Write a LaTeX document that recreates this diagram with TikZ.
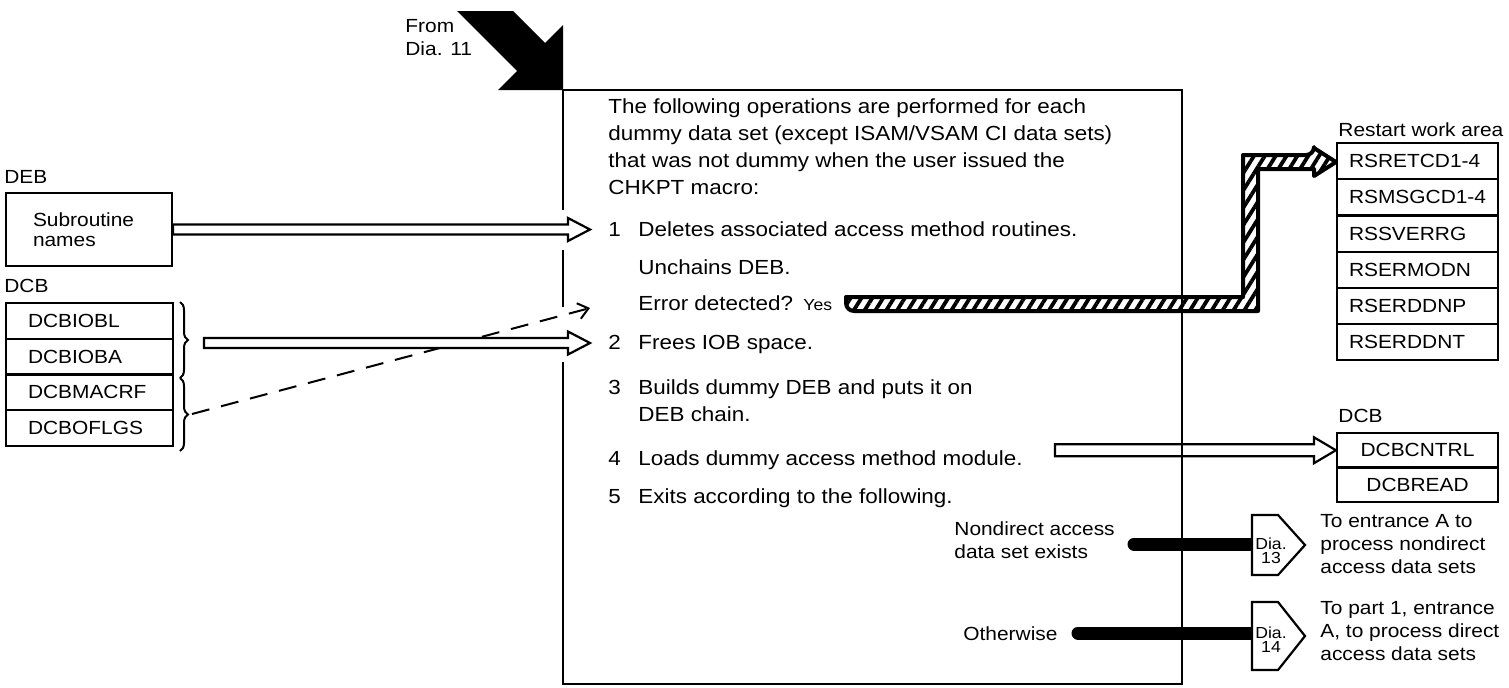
\documentclass[tikz,border=0pt]{standalone}
\usepackage{fontspec}
\setmainfont{Liberation Sans}[FakeStretch=1.1]
\usetikzlibrary{calc,decorations.pathreplacing,patterns.meta,arrows.meta}

\newcommand\txtmain{\fontsize{10.2pt}{13pt}\selectfont}
\newcommand\txtsmall{\fontsize{9.5pt}{11.5pt}\selectfont}
\newcommand\txttiny{\fontsize{8pt}{7pt}\selectfont}

% horizontal hollow (outlined) arrow: start, tip, shaft half-height, head half-height, head length
\newcommand\hollowarr[5]{%
  \draw[hollow] let \p1=(#1), \p2=(#2) in
    (\x1,\y1+#3) -- (\x2-#5,\y1+#3) -- (\x2-#5,\y1+#4) -- (\x2,\y1)
    -- (\x2-#5,\y1-#4) -- (\x2-#5,\y1-#3) -- (\x1,\y1-#3) -- cycle;}

\begin{document}
\begin{tikzpicture}[x=0.5pt,y=-0.5pt,
  frame/.style={line width=1.4pt},
  txt/.style={font=\txtmain, inner sep=0pt, anchor=base west},
  lbl/.style={font=\txtsmall, inner sep=0pt, anchor=base west},
  cellbox/.style={draw, line width=1.1pt, inner ysep=0pt, align=left, font=\txtsmall},
  cellL/.style={cellbox, minimum height=17.9pt, text width=61.5pt, inner xsep=11pt},
  cellR/.style={cellbox, minimum height=18.1pt, text width=68.5pt, inner xsep=6pt},
  cellD/.style={cellbox, minimum height=17.25pt, text width=80.5pt, inner xsep=0pt, align=center},
  hollow/.style={draw, fill=white, line width=1.1pt},
  bar/.style={line width=6.5pt, line cap=round},
  exitbox/.style={draw, fill=white, line width=1.1pt},
  dashlink/.style={line width=1pt, dash pattern=on 9pt off 6pt, -{Straight Barb[length=5pt,width=8pt]}},
  bracestyle/.style={line width=1pt, decorate, decoration={brace, amplitude=4pt}},
]
\useasboundingbox (0,0) rectangle (1509,687);

% ---------- incoming connector ----------
\fill (457,11) -- (513,11) -- (545,43) -- (563,25) -- (563,90) -- (498,90) -- (517,71) -- cycle;
\node[lbl] (from1) at (405,32) {From};
\node[lbl] (from2) at (405,55) {Dia. 11};

% ---------- left: DEB and DCB ----------
\node[lbl] (deblbl) at (4,183) {DEB};
\node[draw, line width=1.1pt, minimum height=36.5pt, text width=56pt, inner xsep=13.5pt,
      align=left, font=\fontsize{9.5pt}{10pt}\selectfont] (deb) at (89,229.5) {Subroutine\\names};

\node[lbl] (dcblbl) at (4,292) {DCB};
\node[cellL] (iobl) at (89.5,320.9) {DCBIOBL};
\node[cellL] (ioba) at (89.5,356.6) {DCBIOBA};
\node[cellL] (macrf) at (89.5,392.4) {DCBMACRF};
\node[cellL] (oflgs) at (89.5,428.1) {DCBOFLGS};

\draw[bracestyle] (180,302) -- (180,378);
\draw[bracestyle] (180,378) -- (180,451);
\coordinate (brA) at (204,343);
\coordinate (brB) at (192,414);

% ---------- right: restart work area ----------
\node[lbl] (rwa) at (1338,136) {Restart work area};
\node[cellR] (rs1) at (1417.5,161.1) {\mbox{RSRETCD1-4}};
\node[cellR] (rs2) at (1417.5,197.3) {\mbox{RSMSGCD1-4}};
\node[cellR] (rs3) at (1417.5,233.5) {RSSVERRG};
\node[cellR] (rs4) at (1417.5,269.7) {RSERMODN};
\node[cellR] (rs5) at (1417.5,305.9) {RSERDDNP};
\node[cellR] (rs6) at (1417.5,342.1) {RSERDDNT};

% ---------- right: DCB ----------
\node[lbl] (dcbr) at (1338,422) {DCB};
\node[cellD] (cntrl) at (1417.5,450.25) {DCBCNTRL};
\node[cellD] (read) at (1417.5,484.75) {DCBREAD};

% ---------- main text ----------
\node[txt] (t1) at (608,113) {The following operations are performed for each};
\node[txt] (t2) at (608,140) {dummy data set (except ISAM/VSAM CI data sets)};
\node[txt] (t3) at (608,167) {that was not dummy when the user issued the};
\node[txt] (t4) at (608,194) {CHKPT macro:};
\node[txt] (n1) at (608,236) {1};
\node[txt] (i1) at (638,236) {Deletes associated access method routines.};
\node[txt] (i1b) at (638,274) {Unchains DEB.};
\node[txt] (err) at (638,310) {Error detected?};
\node[font=\fontsize{8pt}{9pt}\selectfont, inner sep=0pt, anchor=base west] (yes) at (803,310) {Yes};
\node[txt] (n2) at (608,349) {2};
\node[txt] (i2) at (638,349) {Frees IOB space.};
\node[txt] (n3) at (608,394) {3};
\node[txt] (i3) at (638,394) {Builds dummy DEB and puts it on};
\node[txt] (i3b) at (638,421) {DEB chain.};
\node[txt] (n4) at (608,465) {4};
\node[txt] (i4) at (638,465) {Loads dummy access method module.};
\node[txt] (n5) at (608,503) {5};
\node[txt] (i5) at (638,503) {Exits according to the following.};

% ---------- exits ----------
\node[lbl] (nd1) at (954,535) {Nondirect access};
\node[lbl] (nd2) at (954,558) {data set exists};
\node[lbl] (oth) at (963,640) {Otherwise};

\draw[bar] (1134,544) -- (1260,544);
\draw[bar] (1078,633) -- (1260,633);

\draw[exitbox] (1252,515) -- (1278,515) -- (1305,545) -- (1278,575) -- (1252,575) -- cycle;
\draw[exitbox] (1252,602) -- (1278,602) -- (1305,636) -- (1278,670) -- (1252,670) -- cycle;
\node[font=\txttiny, align=center, inner sep=0pt] (d13) at (1271,551) {Dia.\\13};
\node[font=\txttiny, align=center, inner sep=0pt] (d14) at (1271,640) {Dia.\\14};

\node[lbl] (e13a) at (1320,527) {To entrance A to};
\node[lbl] (e13b) at (1320,550) {process nondirect};
\node[lbl] (e13c) at (1320,573) {access data sets};
\node[lbl] (e14a) at (1320,614) {To part 1, entrance};
\node[lbl] (e14b) at (1320,637) {A, to process direct};
\node[lbl] (e14c) at (1320,660) {access data sets};

% ---------- connectors ----------
\draw[dashlink] (brB) -- (590,308);
\hollowarr{deb.east}{590,229.5}{2.5pt}{5.75pt}{11pt}
\hollowarr{brA}{590,343}{2.5pt}{5.75pt}{11pt}
\hollowarr{1055,450.25}{cntrl.west}{3pt}{6.5pt}{11pt}

% error path to the restart work area (hatched)
\def\errband{(846,297) -- (1243,297) -- (1243,155) [rounded corners=4pt] -- (1314,155)
  [sharp corners] -- (1314,148) -- (1336,162) -- (1314,176) -- (1314,169) -- (1258,169)
  -- (1258,311) [rounded corners=4pt] -- (846,311) [sharp corners] -- cycle}
\path[fill=white] \errband;
\path[pattern={Lines[angle=58,distance=4.6pt,line width=1.9pt]}] \errband;
\draw[line width=2pt, line join=round] \errband;

% ---------- process box ----------
\draw[frame] (563,90) -- (1182,90) -- (1182,684) -- (563,684) -- (563,362);
\draw[frame] (563,307) -- (563,250);
\draw[frame] (563,210) -- (563,90);
\end{tikzpicture}
\end{document}
